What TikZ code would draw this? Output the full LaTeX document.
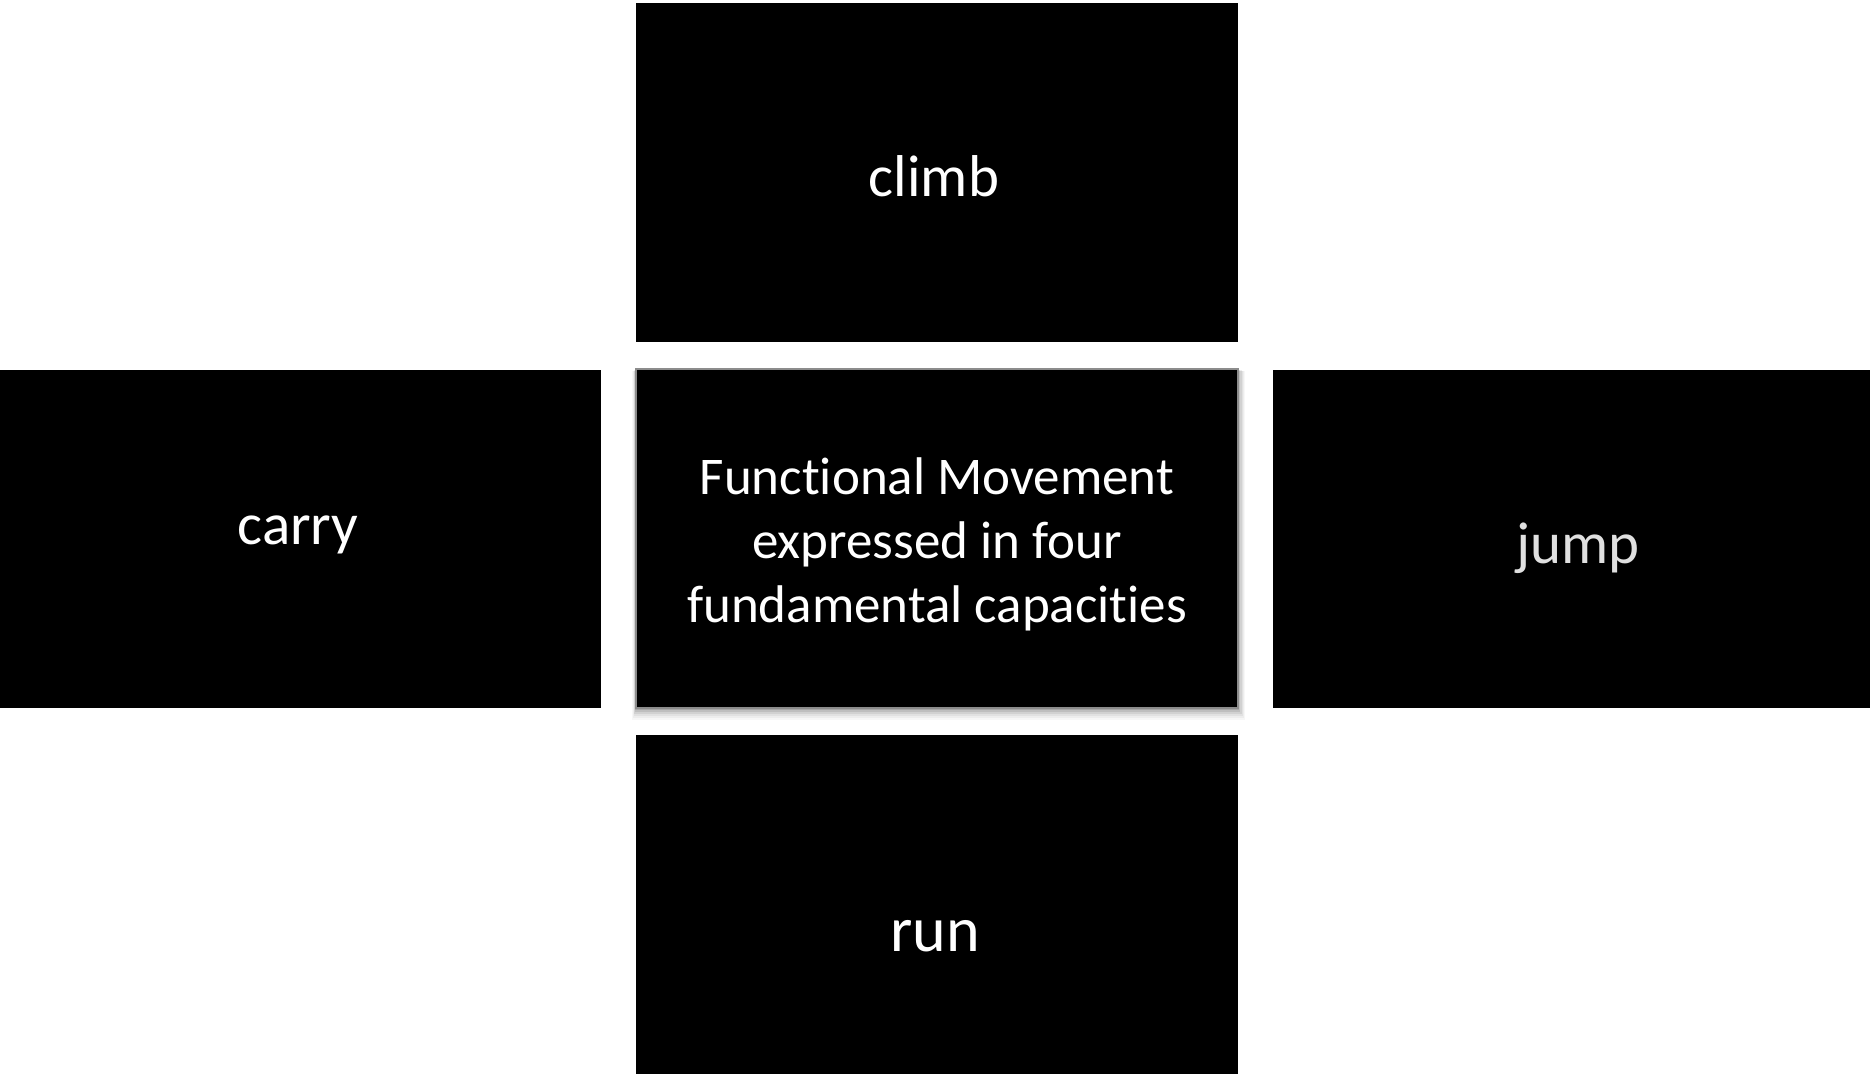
\documentclass[tikz,border=0pt]{standalone}
\usepackage{fontspec}
\setmainfont{Carlito}[RawFeature={-liga}]
\begin{document}
\begin{tikzpicture}[x=1pt,y=-1pt,
  blackbox/.style={fill=black, draw=none, inner sep=0pt, outer sep=0pt},
  lbl/.style={text=white, inner sep=0pt, anchor=base, align=center},
]
\useasboundingbox (0,0) rectangle (1870,1074);
% shadow of central box
\foreach \i/\o in {12/0.03,10/0.04,8/0.05,6/0.07,4/0.09,2/0.12} {
  \fill[black, opacity=\o] (636-\i*0.3,369+\i*0.2) rectangle (1238+\i*0.6,708+\i);
}
\node[blackbox, minimum width=602pt, minimum height=339pt, anchor=north west] (climb) at (636,3) {};
\node[blackbox, draw=black!45, line width=1.2pt, minimum width=602pt, minimum height=339pt, anchor=north west] (center) at (636,369) {};
\node[blackbox, minimum width=601pt, minimum height=338pt, anchor=north west] (carry) at (0,370) {};
\node[blackbox, minimum width=597pt, minimum height=338pt, anchor=north west] (jump) at (1273,370) {};
\node[blackbox, minimum width=602pt, minimum height=339pt, anchor=north west] (run) at (636,735) {};

\node[lbl, font=\fontsize{59}{70}\selectfont] (tclimb) at (934,196) {climb};
\node[lbl, font=\fontsize{59}{70}\selectfont] (tcarry) at (298,544) {carry};
\node[lbl, font=\fontsize{59}{70}\selectfont, text=black!12] (tjump) at (1578,563) {jump};
\node[lbl, font=\fontsize{64}{75}\selectfont] (trun) at (935,951) {run};
\node[lbl, font=\fontsize{53}{64}\selectfont] (tcenter) at (937,622) {Functional Movement\\expressed in four\\fundamental capacities};
\end{tikzpicture}
\end{document}
